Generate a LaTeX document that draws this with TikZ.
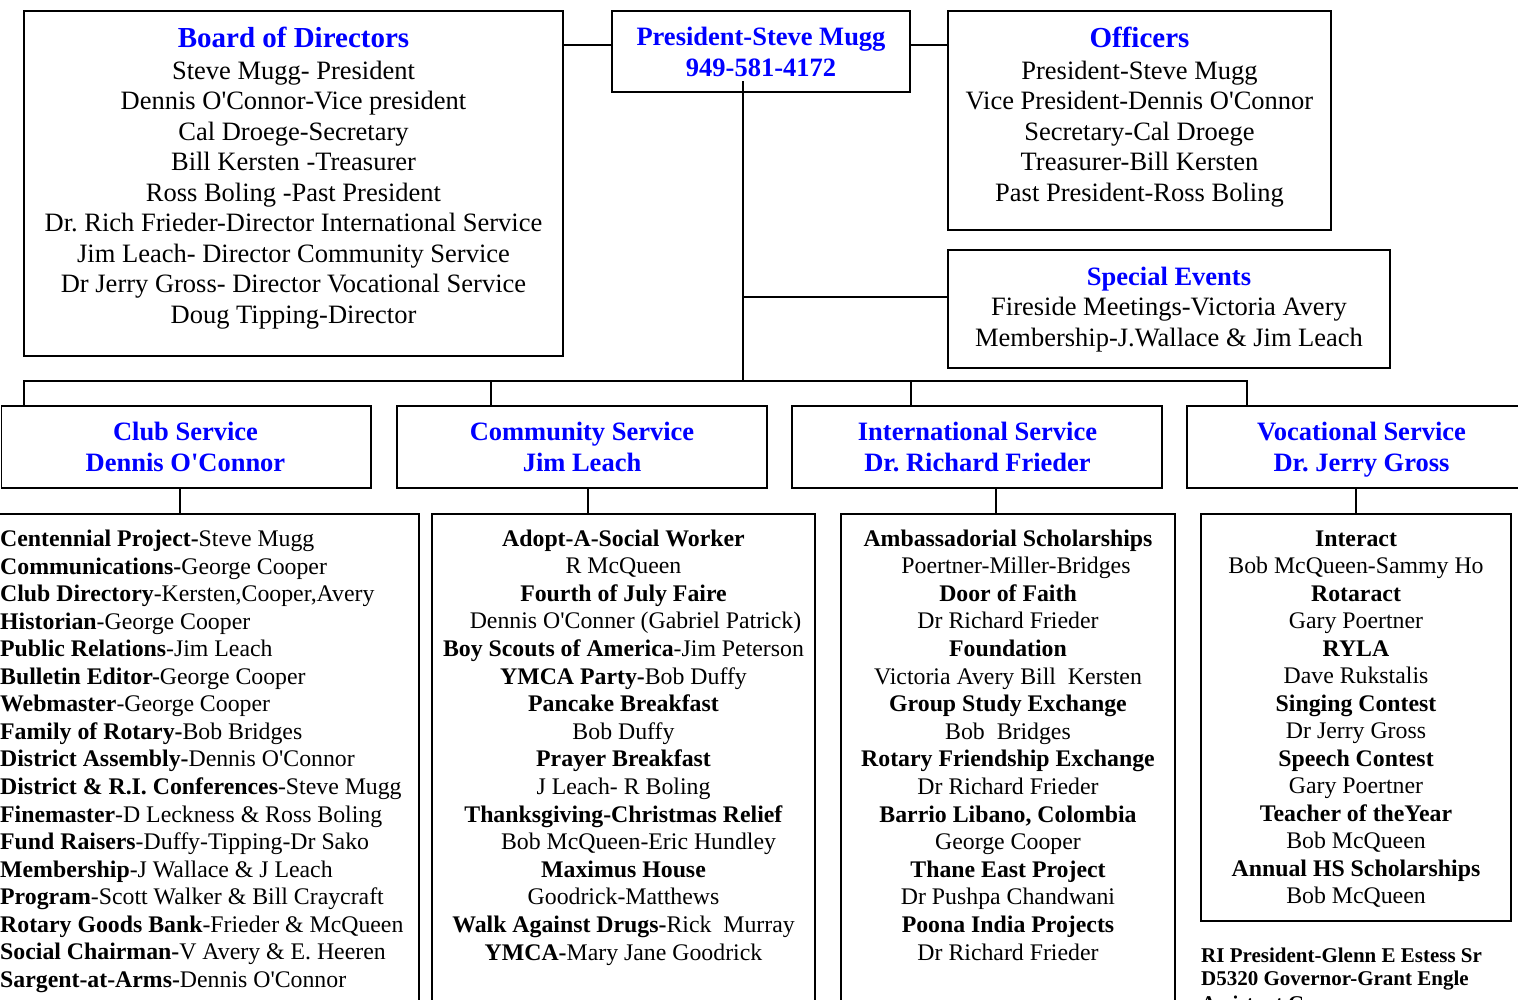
\documentclass[tikz,border=0pt]{standalone}
\usepackage{fontspec}
\setmainfont{Liberation Serif}
\frenchspacing
\definecolor{hdblue}{RGB}{0,0,255}
\newcommand\aps{\textquotesingle}
\newcommand\txtlines[6]{\foreach \t [count=\i] in {#6}{\node[#2] (#1\i) at (#3,{#4+#5*(\i-1)}) {\t};}}
\tikzset{
  box/.style={draw, line width=1.8pt, anchor=north west, inner sep=0pt, outer sep=0pt},
  conn/.style={line width=1.8pt},
  bighead/.style={font=\fontsize{29}{31}\selectfont\bfseries, text=hdblue, inner sep=0pt, anchor=base},
  head/.style={font=\fontsize{26.5}{31}\selectfont\bfseries, text=hdblue, inner sep=0pt, anchor=base},
  bodytxt/.style={font=\fontsize{26.5}{30.5}\selectfont, inner sep=0pt, anchor=base},
  listtxt/.style={font=\fontsize{23.8}{27.5}\selectfont, inner sep=0pt, anchor=base},
  listleft/.style={listtxt, anchor=base west},
  foot/.style={font=\fontsize{21}{23}\selectfont\bfseries, inner sep=0pt, anchor=base west}
}
\begin{document}
\begin{tikzpicture}[x=1pt,y=-1pt]
\useasboundingbox (0,0) rectangle (1518,999);
\clip (0,0) rectangle (1518,999);
% top boxes
\node[box, minimum width=539pt, minimum height=345pt] (bod) at (24,11) {};
\node[box, minimum width=298pt, minimum height=81pt] (pres) at (612,11) {};
\node[box, minimum width=383pt, minimum height=219pt] (off) at (948,11) {};
\node[box, minimum width=442pt, minimum height=118pt] (spec) at (948,250) {};
% service boxes
\node[box, minimum width=369.5pt, minimum height=82pt] (club) at (1.5,406) {};
\node[box, minimum width=370pt, minimum height=82pt] (comm) at (397,406) {};
\node[box, minimum width=370pt, minimum height=82pt] (intl) at (792,406) {};
\node[box, minimum width=370pt, minimum height=82pt] (voc) at (1187,406) {};
% list boxes
\node[box, minimum width=429pt, minimum height=500pt] (clubl) at (-10,514) {};
\node[box, minimum width=383pt, minimum height=500pt] (comml) at (432,514) {};
\node[box, minimum width=334pt, minimum height=500pt] (intll) at (841,514) {};
\node[box, minimum width=310pt, minimum height=407pt] (vocl) at (1201,514) {};
% connector coordinates
\coordinate (y45) at (0,45);
\coordinate (trunktop) at (743,81);
\coordinate (jspec) at (743,297);
\coordinate (busmid) at (743,381);
\coordinate (d1) at (24,381);
\coordinate (d2) at (491,381);
\coordinate (d3) at (911,381);
\coordinate (d4) at (1247,381);
\coordinate (s1) at (180,0);
\coordinate (s2) at (588,0);
\coordinate (s3) at (996,0);
\coordinate (s4) at (1356,0);
% connectors
\draw[conn] (bod.east |- y45) -- (pres.west |- y45);
\draw[conn] (pres.east |- y45) -- (off.west |- y45);
\draw[conn] (trunktop) -- (busmid);
\draw[conn] (jspec) -- (jspec -| spec.west);
\draw[conn] (d1 |- club.north) -- (d1) -- (d4) -- (d4 |- voc.north);
\draw[conn] (d2) -- (d2 |- comm.north);
\draw[conn] (d3) -- (d3 |- intl.north);
\draw[conn] (s1 |- club.south) -- (s1 |- clubl.north);
\draw[conn] (s2 |- comm.south) -- (s2 |- comml.north);
\draw[conn] (s3 |- intl.south) -- (s3 |- intll.north);
\draw[conn] (s4 |- voc.south) -- (s4 |- vocl.north);
% Board of directors
\node[bighead] (bodh) at (293.5,47.3) {Board of Directors};
\txtlines{bodt}{bodytxt}{293.5}{79.3}{30.5}{
 Steve Mugg- President,
 Dennis O\aps Connor-Vice president,
 Cal Droege-Secretary,
 Bill Kersten -Treasurer,
 Ross Boling -Past President,
 Dr. Rich Frieder-Director International Service,
 Jim Leach- Director Community Service,
 Dr Jerry Gross- Director Vocational Service,
 Doug Tipping-Director}
% President
\node[head] (presh1) at (761,45) {President-Steve Mugg};
\node[head] (presh2) at (761,76) {949-581-4172};
% Officers
\node[bighead] (offh) at (1139.5,47.3) {Officers};
\txtlines{offt}{bodytxt}{1139.5}{79.3}{30.5}{
 President-Steve Mugg,
 Vice President-Dennis O\aps Connor,
 Secretary-Cal Droege,
 Treasurer-Bill Kersten,
 Past President-Ross Boling}
% Special events
\node[head] (spech) at (1169,285.7) {Special Events};
\txtlines{spect}{bodytxt}{1169}{315.5}{30.5}{
 Fireside Meetings-Victoria Avery,
 Membership-J.Wallace \& Jim Leach}
% service headers
\node[head] (clubh1) at (185.5,440.7) {Club Service};
\node[head] (clubh2) at (185.5,471) {Dennis O\aps Connor};
\node[head] (commh1) at (582,440.7) {Community Service};
\node[head] (commh2) at (582,471) {Jim Leach};
\node[head] (intlh1) at (977.5,440.7) {International Service};
\node[head] (intlh2) at (977.5,471) {Dr. Richard Frieder};
\node[head] (voch1) at (1361.5,440.7) {Vocational Service};
\node[head] (voch2) at (1361.5,471) {Dr. Jerry Gross};
% club list
\txtlines{clubt}{listleft}{0}{546.5}{27.55}{
 {\textbf{Centennial Project-}Steve Mugg},
 {\textbf{Communications-}George Cooper},
 {\textbf{Club Directory}-Kersten,Cooper,Avery},
 {\textbf{Historian}-George Cooper},
 {\textbf{Public Relations}-Jim Leach},
 {\textbf{Bulletin Editor-}George Cooper},
 {\textbf{Webmaster}-George Cooper},
 {\textbf{Family of Rotary-}Bob Bridges},
 {\textbf{District Assembly-}Dennis O\aps Connor},
 {\textbf{District \& R.I. Conferences}-Steve Mugg},
 {\textbf{Finemaster}-D Leckness \& Ross Boling},
 {\textbf{Fund Raisers}-Duffy-Tipping-Dr Sako},
 {\textbf{Membership}-J Wallace \& J Leach},
 {\textbf{Program}-Scott Walker \& Bill Craycraft},
 {\textbf{Rotary Goods Bank}-Frieder \& McQueen},
 {\textbf{Social Chairman-}V Avery \& E. Heeren},
 {\textbf{Sargent-at-Arms-}Dennis O\aps Connor}}
% community list
\txtlines{commt}{listtxt}{623.5}{546}{27.6}{
 {\textbf{Adopt-A-Social Worker}},
 {R McQueen},
 {\textbf{Fourth of July Faire}},
 {\hspace*{24pt}Dennis O\aps Conner (Gabriel Patrick)},
 {\textbf{Boy Scouts of America}-Jim Peterson},
 {\textbf{YMCA Party-}Bob Duffy},
 {\textbf{Pancake Breakfast}},
 {Bob Duffy},
 {\textbf{Prayer Breakfast}},
 {J Leach- R Boling},
 {\textbf{Thanksgiving-Christmas Relief}},
 {\hspace*{30pt}Bob McQueen-Eric Hundley},
 {\textbf{Maximus House}},
 {Goodrick-Matthews},
 {\textbf{Walk Against Drugs-}Rick\ \ Murray},
 {\textbf{YMCA-}Mary Jane Goodrick}}
% international list
\txtlines{intlt}{listtxt}{1008}{546}{27.6}{
 {\textbf{Ambassadorial Scholarships}},
 {\hspace*{16pt}Poertner-Miller-Bridges},
 {\textbf{Door of Faith}},
 {Dr Richard Frieder},
 {\textbf{Foundation}},
 {Victoria Avery Bill\ \ Kersten},
 {\textbf{Group Study Exchange}},
 {Bob\ \ Bridges},
 {\textbf{Rotary Friendship Exchange}},
 {Dr Richard Frieder},
 {\textbf{Barrio Libano, Colombia}},
 {George Cooper},
 {\textbf{Thane East Project}},
 {Dr Pushpa Chandwani},
 {\textbf{Poona India Projects}},
 {Dr Richard Frieder}}
% vocational list
\txtlines{voct}{listtxt}{1356}{546}{27.5}{
 {\textbf{Interact}},
 {Bob McQueen-Sammy Ho},
 {\textbf{Rotaract}},
 {Gary Poertner},
 {\textbf{RYLA}},
 {Dave Rukstalis},
 {\textbf{Singing Contest}},
 {Dr Jerry Gross},
 {\textbf{Speech Contest}},
 {Gary Poertner},
 {\textbf{Teacher of theYear}},
 {Bob McQueen},
 {\textbf{Annual HS Scholarships}},
 {Bob McQueen}}
% footer
\txtlines{foott}{foot}{1201}{962.3}{23}{
 RI President-Glenn E Estess Sr,
 D5320 Governor-Grant Engle}
\node[foot] (foot3) at (1201,1010.5) {Assistant Governor};
\end{tikzpicture}
\end{document}
